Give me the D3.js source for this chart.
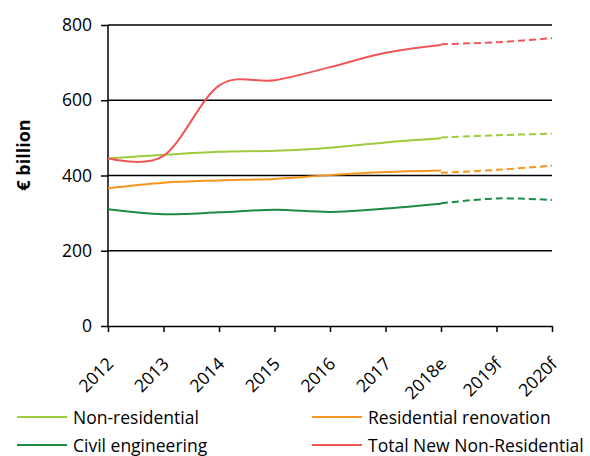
<!DOCTYPE html>
<html>
<head>
<meta charset="utf-8">
<script src="https://cdn.jsdelivr.net/npm/d3@7"></script>
<style>
  html, body { margin: 0; padding: 0; background: #fff; }
  svg { display: block; font-family: "Open Sans", "Noto Sans", sans-serif; }
</style>
</head>
<body>
<svg id="chart" width="590" height="456"></svg>
<script>
// Categories (x axis)
const years = ["2012", "2013", "2014", "2015", "2016", "2017", "2018e", "2019f", "2020f"];
const actualYears = ["2012", "2013", "2014", "2015", "2016", "2017", "2018e"];
const forecastYears = ["2018e", "2019f", "2020f"];

// Series values, € billion — actual (solid) and forecast (dashed)
const nonResidential = [445, 455, 463, 466, 474, 488, 499];
const nonResidentialF = [501, 507, 511];
const residentialRenovation = [366, 381, 387, 391, 401, 409, 413];
const residentialRenovationF = [407, 415, 426];
const civilEngineering = [310, 297, 302, 309, 303, 312, 325];
const civilEngineeringF = [326, 339, 335];
const totalNewNonResidential = [446, 452, 639, 653, 688, 726, 747];
const totalNewNonResidentialF = [749, 754, 765];

const yTicks = [0, 200, 400, 600, 800];

const seriesNames = ["Non-residential", "Residential renovation", "Civil engineering", "Total New Non-Residential"];
const seriesColors = ["#9ccb3b", "#f7951d", "#1a8b45", "#f05657"];

const series = [
  { name: seriesNames[0], color: seriesColors[0], actual: nonResidential, forecast: nonResidentialF },
  { name: seriesNames[1], color: seriesColors[1], actual: residentialRenovation, forecast: residentialRenovationF },
  { name: seriesNames[2], color: seriesColors[2], actual: civilEngineering, forecast: civilEngineeringF },
  { name: seriesNames[3], color: seriesColors[3], actual: totalNewNonResidential, forecast: totalNewNonResidentialF }
];

const svg = d3.select("#chart");
const margin = { top: 25, right: 38, bottom: 130, left: 108 };
const W = 590, H = 456;
const innerW = W - margin.left - margin.right;
const innerH = H - margin.top - margin.bottom;

const x = d3.scalePoint().domain(years).range([0, innerW]);
const y = d3.scaleLinear().domain([0, 800]).range([innerH, 0]);

const g = svg.append("g").attr("transform", `translate(${margin.left},${margin.top})`);

// Horizontal gridlines
g.append("g")
  .selectAll("line")
  .data(yTicks.filter(d => d > 0))
  .join("line")
  .attr("x1", 0).attr("x2", innerW)
  .attr("y1", d => y(d)).attr("y2", d => y(d))
  .attr("stroke", "#000").attr("stroke-width", 1.5);

// Y axis
const yAxis = g.append("g")
  .call(d3.axisLeft(y).tickValues(yTicks).tickSize(7).tickPadding(9).tickFormat(d3.format("d")));
yAxis.select(".domain").attr("stroke", "#000").attr("stroke-width", 1.5).attr("d", `M0,${innerH}V0`);
yAxis.selectAll(".tick line").attr("stroke", "#000").attr("stroke-width", 1.5);
yAxis.selectAll(".tick text").attr("font-size", 17.5).attr("fill", "#000")
  .attr("font-family", "'Open Sans', sans-serif");

// X axis
const xAxis = g.append("g")
  .attr("transform", `translate(0,${innerH})`)
  .call(d3.axisBottom(x).tickSize(6).tickSizeOuter(0));
xAxis.select(".domain").attr("stroke", "#000").attr("stroke-width", 1.5);
xAxis.selectAll(".tick line").attr("stroke", "#000").attr("stroke-width", 1.5);
xAxis.selectAll(".tick text")
  .attr("font-size", 17.5).attr("fill", "#000")
  .attr("font-family", "'Open Sans', sans-serif")
  .attr("text-anchor", "end")
  .attr("x", 0).attr("y", 0).attr("dy", 0)
  .attr("transform", "translate(6,39) rotate(-45)");

// Y axis title
svg.append("text")
  .attr("transform", `translate(30,155) rotate(-90)`)
  .attr("text-anchor", "middle")
  .attr("font-size", 18).attr("font-weight", "bold").attr("fill", "#000")
  .text("€ billion");

// Lines
const line = d3.line()
  .x(d => x(d.year))
  .y(d => y(d.value))
  .curve(d3.curveCardinal.tension(0));

series.forEach(s => {
  const a = actualYears.map((yr, i) => ({ year: yr, value: s.actual[i] }));
  const f = forecastYears.map((yr, i) => ({ year: yr, value: s.forecast[i] }));
  g.append("path").datum(a)
    .attr("fill", "none").attr("stroke", s.color).attr("stroke-width", 2)
    .attr("d", line);
  g.append("path").datum(f)
    .attr("fill", "none").attr("stroke", s.color).attr("stroke-width", 2)
    .attr("stroke-dasharray", "7,4")
    .attr("d", line);
});

// Legend
const legendPos = [
  { x: 17, y: 417 },
  { x: 312, y: 417 },
  { x: 17, y: 445 },
  { x: 312, y: 445 }
];
const legend = svg.append("g");
series.forEach((s, i) => {
  const p = legendPos[i];
  legend.append("line")
    .attr("x1", p.x).attr("x2", p.x + 50)
    .attr("y1", p.y).attr("y2", p.y)
    .attr("stroke", s.color).attr("stroke-width", 2);
  legend.append("text")
    .attr("x", p.x + 56).attr("y", p.y + 7)
    .attr("font-size", 17.5).attr("fill", "#000")
    .text(s.name);
});
</script>
</body>
</html>
